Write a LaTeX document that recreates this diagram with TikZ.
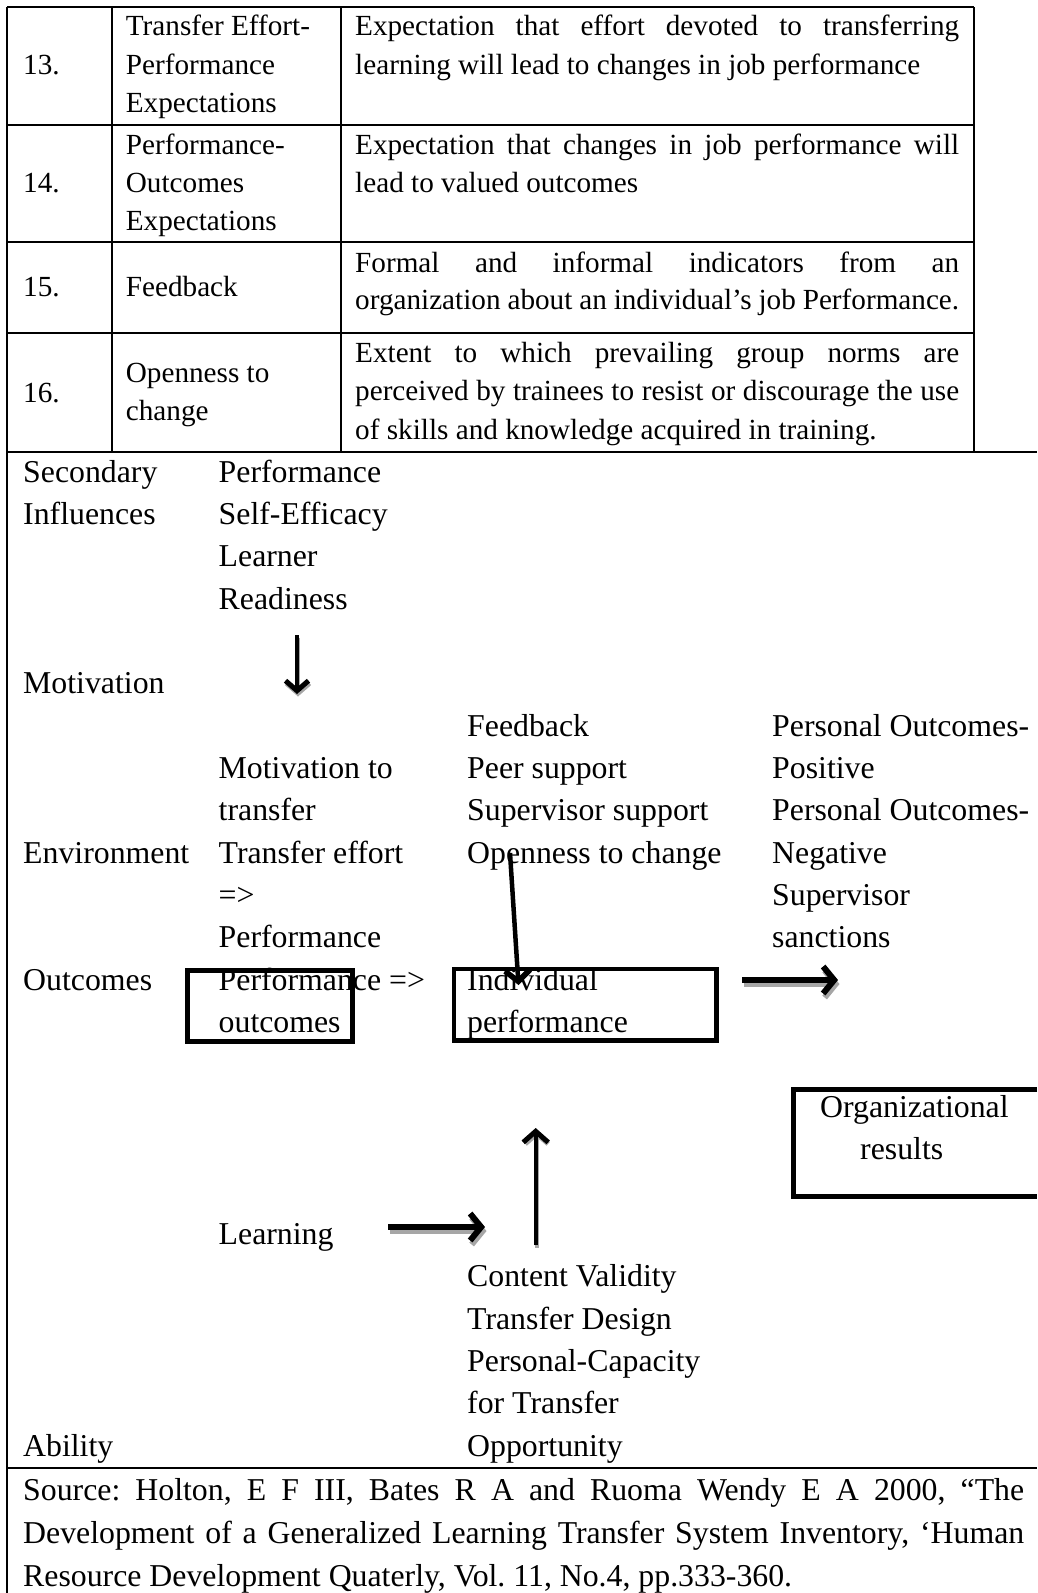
\documentclass[tikz,border=0pt]{standalone}
\usepackage{fontspec}
\setmainfont{Liberation Serif}
\usetikzlibrary{arrows.meta}
\begin{document}
\frenchspacing
\begin{tikzpicture}[x=1pt,y=-1pt,
  frame/.style={line width=2pt},
  tbl/.style={anchor=base west, inner sep=0pt, font=\fontsize{29.2}{38}\selectfont\frenchspacing},
  dg/.style={anchor=base west, inner sep=0pt, font=\fontsize{31.8}{42}\selectfont\frenchspacing},
  boxline/.style={line width=4.5pt},
  heavyarrow/.style={line width=5.5pt, -{Straight Barb[length=11pt,width=27pt,line width=6pt]}},
  lightarrow/.style={line width=4pt, -{Straight Barb[length=10pt,width=23pt,line width=5pt]}},
  shadowline/.style={draw=black!35}
]
\useasboundingbox (0,0) rectangle (1037,1593);
% ---- frame / table lines
\draw[frame] (7.3,7.3) -- (974,7.3);
\draw[frame] (7.3,7.3) -- (7.3,1593);
\draw[frame] (974,7.3) -- (974,451.7);
\draw[frame] (112,7.3) -- (112,451.7);
\draw[frame] (340.5,7.3) -- (340.5,451.7);
\draw[frame] (7.3,125) -- (974,125);
\draw[frame] (7.3,241.7) -- (974,241.7);
\draw[frame] (7.3,333.3) -- (974,333.3);
\draw[frame] (7.3,451.7) -- (1037,451.7);
\draw[frame] (7.3,1468) -- (1037,1468);
% ---- table texts
\node[tbl] (n13) at (23,74) {13.};
\node[tbl] (c13a) at (125.7,35.5) {Transfer Effort-};
\node[tbl] (c13b) at (125.7,74) {Performance};
\node[tbl] (c13c) at (125.7,112.3) {Expectations};
\node[tbl] (d13a) at (355,35.5) {\makebox[604pt][s]{Expectation that effort devoted to transferring}};
\node[tbl] (d13b) at (355,74) {learning will lead to changes in job performance};
\node[tbl] (n14) at (23,192.3) {14.};
\node[tbl] (c14a) at (125.7,154) {Performance-};
\node[tbl] (c14b) at (125.7,192.3) {Outcomes};
\node[tbl] (c14c) at (125.7,230.7) {Expectations};
\node[tbl] (d14a) at (355,154) {\makebox[604pt][s]{Expectation that changes in job performance will}};
\node[tbl] (d14b) at (355,192.3) {lead to valued outcomes};
\node[tbl] (n15) at (23,296.3) {15.};
\node[tbl] (c15a) at (125.7,296.3) {Feedback};
\node[tbl] (d15a) at (355,272.3) {\makebox[604pt][s]{Formal and informal indicators from an}};
\node[tbl] (d15b) at (355,309) {\makebox[604pt][s]{organization about an individual’s job Performance.}};
\node[tbl] (n16) at (23,402.3) {16.};
\node[tbl] (c16a) at (125.7,382.3) {Openness to};
\node[tbl] (c16b) at (125.7,420.7) {change};
\node[tbl] (d16a) at (355,362.3) {\makebox[604pt][s]{Extent to which prevailing group norms are}};
\node[tbl] (d16b) at (355,400.7) {\makebox[604pt][s]{perceived by trainees to resist or discourage the use}};
\node[tbl] (d16c) at (355,439) {of skills and knowledge acquired in training.};
% ---- diagram texts (rows: baseline = 482 + 42.35 n)
\node[dg] (sec) at (23,482) {Secondary};
\node[dg] (infl) at (23,524.35) {Influences};
\node[dg] (perf1) at (218.5,482) {Performance};
\node[dg] (selfeff) at (218.5,524.35) {Self-Efficacy};
\node[dg] (learner) at (218.5,566.7) {Learner};
\node[dg] (ready) at (218.5,609.05) {Readiness};
\node[dg] (motiv) at (23,693.75) {Motivation};
\node[dg] (feedb) at (467,736.1) {Feedback};
\node[dg] (poA) at (772,736.1) {Personal Outcomes-};
\node[dg] (mt1) at (218.5,778.45) {Motivation to};
\node[dg] (peer) at (467,778.45) {Peer support};
\node[dg] (pos) at (772,778.45) {Positive};
\node[dg] (mt2) at (218.5,820.8) {transfer};
\node[dg] (supsup) at (467,820.8) {Supervisor support};
\node[dg] (poB) at (772,820.8) {Personal Outcomes-};
\node[dg] (env) at (23,863.15) {Environment};
\node[dg] (te1) at (218.5,863.15) {Transfer effort};
\node[dg] (open) at (467,863.15) {Openness to change};
\node[dg] (neg) at (772,863.15) {Negative};
\node[dg] (te2) at (218.5,905.5) {=>};
\node[dg] (sup) at (772,905.5) {Supervisor};
\node[dg] (te3) at (218.5,947.85) {Performance};
\node[dg] (sanc) at (772,947.85) {sanctions};
\node[dg] (outc) at (23,990.2) {Outcomes};
\node[dg] (po1) at (218.5,990.2) {Performance =>};
\node[dg] (po2) at (218.5,1032.55) {outcomes};
\node[dg] (ip1) at (467,990.2) {Individual};
\node[dg] (ip2) at (467,1032.55) {performance};
\node[dg] (org1) at (820,1117.25) {Organizational};
\node[dg] (org2) at (860,1159.6) {results};
\node[dg] (learn) at (218.5,1244.3) {Learning};
\node[dg] (cv) at (467,1286.65) {Content Validity};
\node[dg] (td) at (467,1329) {Transfer Design};
\node[dg] (pc) at (467,1371.35) {Personal-Capacity};
\node[dg] (ft) at (467,1413.7) {for Transfer};
\node[dg] (abil) at (23,1456) {Ability};
\node[dg] (opp) at (467,1456) {Opportunity};
% ---- source
\node[dg] (src1) at (23,1500) {\makebox[1001pt][s]{Source: Holton, E F III, Bates R A and Ruoma Wendy E A 2000, “The}};
\node[dg] (src2) at (23,1543) {\makebox[1001pt][s]{Development of a Generalized Learning Transfer System Inventory, ‘Human}};
\node[dg] (src3) at (23,1586) {Resource Development Quaterly, Vol. 11, No.4, pp.333-360.};
% ---- boxes
\draw[boxline] (187.3,970.7) rectangle (352.7,1041.7);
\draw[boxline] (454,969) rectangle (716.5,1040.5);
\draw[boxline] (1037,1089.3) -| (793.3,1196.7) -- (1037,1196.7);
% ---- arrows
\coordinate (a1s) at (297,635);   \coordinate (a1e) at (297,694);
\coordinate (a2s) at (510,853);   \coordinate (a2e) at (518.5,985);
\coordinate (a3s) at (742,980);   \coordinate (a3e) at (838,980);
\coordinate (a4s) at (388,1227);  \coordinate (a4e) at (485,1227);
\coordinate (a5s) at (535.7,1245); \coordinate (a5e) at (535.7,1128);
% shadows
\draw[lightarrow, shadowline] ([shift={(1,2.5)}]a1s) -- ([shift={(1,2.5)}]a1e);
\draw[heavyarrow, shadowline] ([shift={(1.5,4)}]a3s) -- ([shift={(1.5,4)}]a3e);
\draw[heavyarrow, shadowline] ([shift={(1.5,4)}]a4s) -- ([shift={(1.5,4)}]a4e);
\draw[lightarrow, shadowline] ([shift={(1,2.5)}]a5s) -- ([shift={(1,2.5)}]a5e);
% arrows
\draw[lightarrow, line width=3.5pt] (a1s) -- (a1e);
\draw[lightarrow, line width=4.5pt, -{Straight Barb[length=11pt,width=25pt,line width=5.5pt]}] (a2s) -- (a2e);
\draw[heavyarrow] (a3s) -- (a3e);
\draw[heavyarrow] (a4s) -- (a4e);
\draw[lightarrow, -{Straight Barb[length=11pt,width=25pt,line width=5pt]}] (a5s) -- (a5e);
\end{tikzpicture}
\end{document}
